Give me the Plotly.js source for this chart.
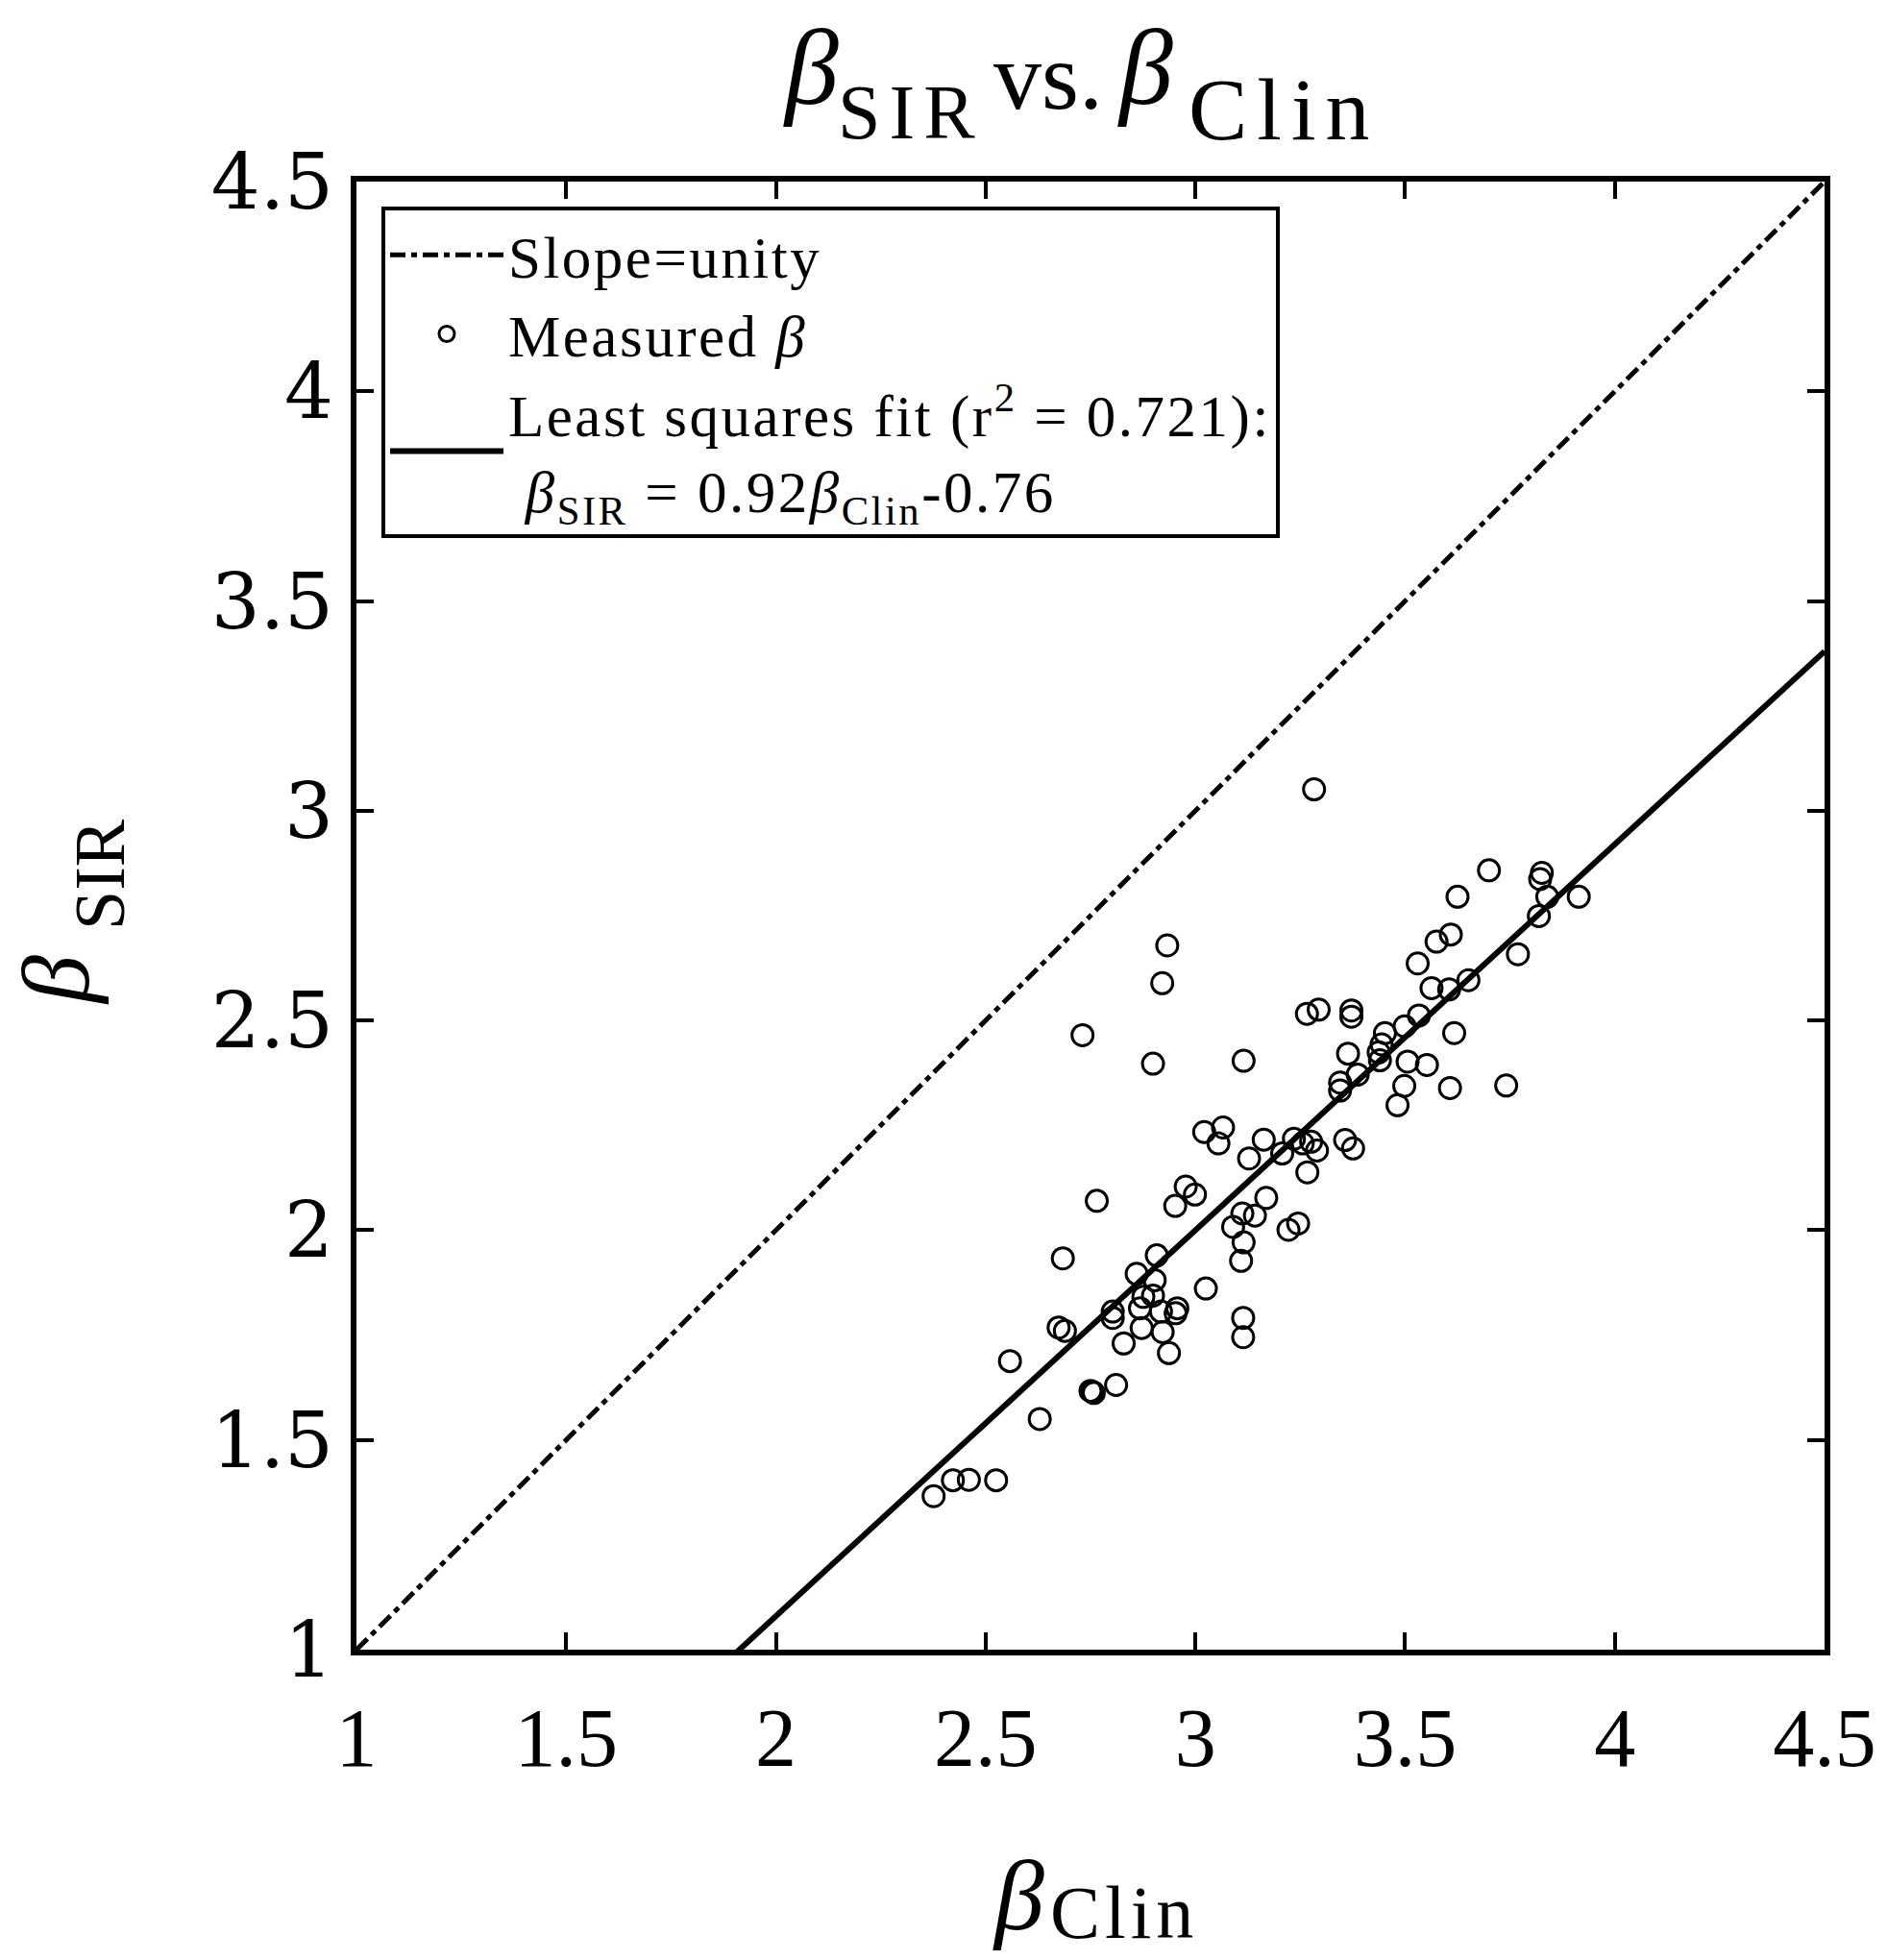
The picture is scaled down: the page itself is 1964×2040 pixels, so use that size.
<!DOCTYPE html>
<html>
<head>
<meta charset="utf-8">
<script src="https://cdn.plot.ly/plotly-3.0.1.min.js"></script>
<style>
  html, body { margin: 0; padding: 0; background: #ffffff; }
  #chart { width: 1964px; height: 2040px; }
</style>
</head>
<body>
<div id="chart"></div>
<script>
// ---- data ----
const betaClin = [
  3.283, 3.700, 3.826, 3.822, 3.839, 3.914, 3.819, 3.625, 3.769, 3.609,
  3.575, 3.530, 3.563, 3.605, 3.651, 3.533, 3.499, 3.452, 3.444, 3.437,
  3.440, 3.364, 3.617, 3.266, 3.294, 3.372, 3.372, 3.506, 3.552, 3.498,
  3.482, 3.607, 3.741, 3.387, 3.345, 3.345, 2.933, 2.921, 2.731, 2.899,
  3.115, 3.021, 3.066, 3.055, 3.163, 3.128, 3.207, 3.235, 3.276, 3.290,
  3.267, 3.357, 3.376, 3.256, 2.765, 2.977, 2.999, 2.952, 3.169, 3.112,
  3.142, 3.090, 3.115, 3.109, 3.222, 3.245, 2.684, 2.908, 2.860, 2.903,
  3.025, 2.876, 2.899, 2.868, 2.803, 2.803, 2.957, 2.953, 2.918, 2.872,
  2.922, 2.829, 2.937, 3.114, 3.114, 2.674, 2.689, 2.558, 2.811, 2.754,
  2.758, 2.750, 2.629, 2.422, 2.460, 2.525, 2.376
];
const betaSIR = [
  3.051, 2.858, 2.852, 2.837, 2.795, 2.795, 2.749, 2.795, 2.658, 2.705,
  2.688, 2.636, 2.577, 2.574, 2.596, 2.512, 2.486, 2.470, 2.443, 2.424,
  2.405, 2.421, 2.470, 2.516, 2.526, 2.524, 2.509, 2.402, 2.394, 2.344,
  2.298, 2.339, 2.345, 2.371, 2.352, 2.333, 2.679, 2.589, 2.465, 2.397,
  2.404, 2.234, 2.245, 2.207, 2.216, 2.171, 2.183, 2.218, 2.211, 2.190,
  2.138, 2.215, 2.195, 2.207, 2.070, 2.104, 2.085, 2.058, 2.077, 2.040,
  2.035, 2.008, 1.971, 1.927, 2.001, 2.016, 1.933, 1.940, 1.896, 1.881,
  1.861, 1.841, 1.844, 1.814, 1.806, 1.791, 1.814, 1.802, 1.806, 1.767,
  1.757, 1.730, 1.707, 1.791, 1.745, 1.768, 1.760, 1.688, 1.631, 1.615,
  1.612, 1.617, 1.550, 1.404, 1.405, 1.404, 1.366
];
const unityX = [1, 4.5];
const fitSlope = 0.92;
const fitIntercept = -0.76;
const fitXRange = [1, 4.5];
const tickValues = [1, 1.5, 2, 2.5, 3, 3.5, 4, 4.5];
const tickLabels = ['1', '1.5', '2', '2.5', '3', '3.5', '4', '4.5'];
const axisRange = [1, 4.5];

// ---- layout constants ----
const W = 1964, H = 2040;
const M = {l: 371, r: 65, t: 189, b: 323};
const PW = W - M.l - M.r, PH = H - M.t - M.b;
const px = x => (x - M.l) / PW;
const py = y => (H - M.b - y) / PH;
const SERIF = 'Liberation Serif, Times New Roman, serif';
const wide = (s, sp) => '<span style="letter-spacing:' + sp + 'px">' + s + '</span>';

const fitY = fitXRange.map(x => fitSlope * x + fitIntercept);

const traces = [
  {
    x: unityX, y: unityX, mode: 'lines', name: wide('Slope=unity', 2.5),
    line: {color: '#000', width: 5, dash: '16px,6px,6px,6px'}
  },
  {
    x: betaClin, y: betaSIR, mode: 'markers', name: wide('Measured <i>β</i>', 2.5),
    marker: {symbol: 'circle-open', size: 22, color: '#000', line: {width: 3, color: '#000'}}
  },
  {
    x: fitXRange, y: fitY, mode: 'lines',
    name: wide('Least squares fit (r<sup>2</sup> = 0.721):', 2.5) + '<br>' +
          wide(' <i>β</i><sub>SIR</sub> = 0.92<i>β</i><sub>Clin</sub>-0.76', 2.5),
    line: {color: '#000', width: 6}
  }
];

function ann(text, xPix, yPix, size, extra) {
  return Object.assign({
    text: text, xref: 'paper', yref: 'paper', x: px(xPix), y: py(yPix),
    xanchor: 'center', yanchor: 'middle', showarrow: false, borderpad: 0,
    font: {family: SERIF, size: size, color: '#000'}
  }, extra || {});
}

const annotations = [
  // title  β_SIR vs. β_Clin
  ann('<i>β</i>', 844, 70, 112),
  ann(wide('SIR', 9), 948, 117, 80),
  ann('vs.', 1091, 80, 100),
  ann('<i>β</i>', 1192, 70, 112),
  ann(wide('Clin', 10), 1336, 114, 92),
  // x title β_Clin
  ann('<i>β</i>', 1060, 1972, 104),
  ann(wide('Clin', 5), 1170, 1990, 78),
  // y title β_SIR
  ann('<i>β</i>', 58, 1020, 100, {textangle: -90}),
  ann('SIR', 104, 910, 74, {textangle: -90})
];

const axisCommon = {
  range: axisRange, tickmode: 'array', tickvals: tickValues, ticktext: tickLabels,
  ticks: 'inside', ticklen: 18, tickwidth: 4, tickcolor: '#000',
  showline: true, linewidth: 6, linecolor: '#000', mirror: 'ticks',
  showgrid: false, zeroline: false, fixedrange: true
};

const layout = {
  width: W, height: H,
  margin: M,
  paper_bgcolor: '#fff', plot_bgcolor: '#fff',
  showlegend: true,
  legend: {
    x: px(397), y: py(215), xanchor: 'left', yanchor: 'top',
    bgcolor: '#fff', bordercolor: '#000', borderwidth: 4,
    font: {family: SERIF, size: 61, color: '#000'},
    itemwidth: 118, tracegroupgap: 0
  },
  xaxis: Object.assign({}, axisCommon, {
    tickfont: {family: SERIF, size: 86, color: '#000'}, ticklabelstandoff: 12
  }),
  yaxis: Object.assign({}, axisCommon, {
    tickfont: {family: 'DejaVu Serif, serif', size: 80, color: '#000'}, ticklabelstandoff: 2
  }),
  annotations: annotations
};

Plotly.newPlot('chart', traces, layout, {staticPlot: true, displayModeBar: false});
</script>
</body>
</html>
